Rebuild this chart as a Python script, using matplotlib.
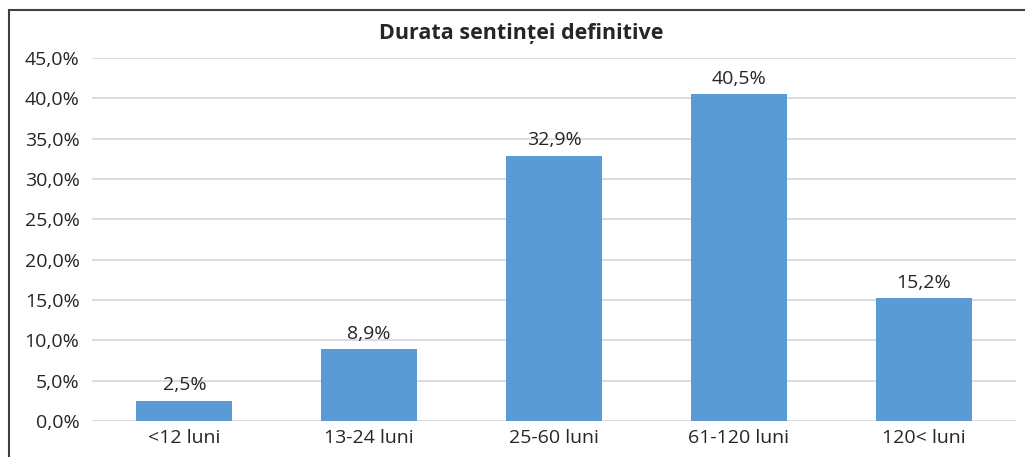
import matplotlib
matplotlib.use("Agg")
import matplotlib.pyplot as plt
from matplotlib.patches import Rectangle

categories = ['<12 luni', '13-24 luni', '25-60 luni', '61-120 luni', '120< luni']
values = [2.5, 8.9, 32.9, 40.5, 15.2]
yticks = [0, 5, 10, 15, 20, 25, 30, 35, 40, 45]

plt.rcParams['font.family'] = ['Open Sans', 'DejaVu Sans']
txt = '#262626'
fs = 14

fig = plt.figure(figsize=(10.25, 4.57), dpi=100)
ax = fig.add_axes([92 / 1025, 36 / 457, (1016 - 92) / 1025, (421 - 58) / 457])

x = list(range(len(categories)))
ax.bar(x, values, width=0.52, color='#5B9BD5', zorder=3)
for xi, v in zip(x, values):
    ax.text(xi, v + 0.8, f'{v:.1f}%'.replace('.', ','), ha='center', va='bottom',
            fontsize=fs, color=txt)

ax.set_xlim(-0.5, len(categories) - 0.5)
ax.set_ylim(0, 45)
ax.set_yticks(yticks)
ax.set_yticklabels([f'{t:.1f}%'.replace('.', ',') for t in yticks], fontsize=fs, color=txt)
ax.set_xticks(x)
ax.set_xticklabels(categories, fontsize=fs, color=txt)
ax.tick_params(axis='y', length=0, pad=9)
ax.tick_params(axis='x', length=0, pad=6)
ax.yaxis.grid(True, color='#D9D9D9', linewidth=1.3, zorder=0)
ax.set_axisbelow(True)
for s in ax.spines.values():
    s.set_visible(False)

fig.text(521 / 1025, 1 - 34 / 457, 'Durata sentinței definitive', ha='center', va='center',
         fontsize=15.5, fontweight='bold', color=txt)

# chart frame (cropped at right and bottom)
fig.patches.append(Rectangle((9 / 1025, -0.1), 1.2, 1 - 10 / 457 + 0.1,
                             transform=fig.transFigure, fill=False,
                             edgecolor='#404040', linewidth=1.5))

fig.savefig('out.png', dpi=100)
